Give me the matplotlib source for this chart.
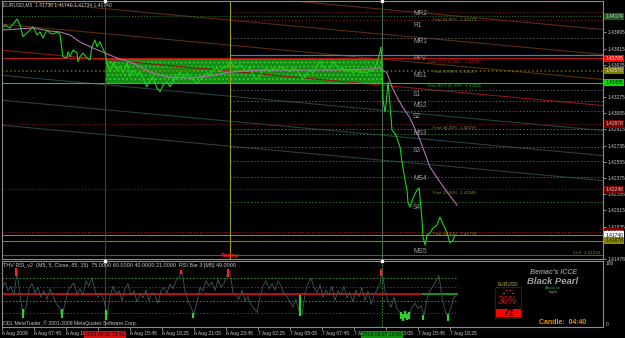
import matplotlib
matplotlib.use("Agg")
import matplotlib.pyplot as plt
from matplotlib.transforms import blended_transform_factory as blend
from matplotlib.patches import Rectangle

# ---------------- data ----------------
symbol_title = "EURUSD,M5  1.41736 1.41740 1.41734 1.41740"

# M5 bars counted from 6 Aug 2009 05:05
price_bar = [0, 3, 8, 13, 15, 18, 21, 25, 28, 31, 35, 38, 41, 45, 48, 51, 56, 58, 60, 61,
             65, 66, 68, 71, 75, 76, 78, 81, 85, 88, 90, 93, 95, 98, 100, 103, 105, 108, 111, 115,
             118, 121, 125, 128, 131, 135, 138, 141, 145, 148, 151, 155, 158, 161, 165, 168, 171, 175, 178, 181,
             185, 188, 191, 195, 198, 201, 205, 208, 211, 215, 218, 221, 225, 228, 231, 235, 238, 241, 245, 248,
             251, 255, 258, 261, 265, 268, 271, 275, 278, 281, 285, 288, 291, 295, 298, 301, 305, 308, 311, 315,
             318, 321, 325, 328, 331, 335, 338, 341, 345, 348, 351, 355, 358, 361, 365, 368, 371, 375, 378, 379,
             380, 381, 383, 384, 386, 388, 389, 390, 394, 398, 400, 403, 405, 406, 408, 411, 415, 417, 418, 420,
             421, 423, 425, 428, 431, 435, 438, 440, 443, 445, 448, 451, 453]
price_close = [1.44040, 1.44077, 1.44044, 1.44114, 1.44144, 1.44077, 1.43947, 1.43988, 1.44021, 1.44058,
               1.43966, 1.44002, 1.43932, 1.44021, 1.43988, 1.43977, 1.44002, 1.43966, 1.43799, 1.43724,
               1.43710, 1.43780, 1.43724, 1.43799, 1.43765, 1.43669, 1.43724, 1.43765, 1.43710, 1.43688,
               1.43836, 1.43910, 1.43836, 1.43891, 1.43836, 1.43765, 1.43654, 1.43557, 1.43654, 1.43576,
               1.43613, 1.43543, 1.43654, 1.43502, 1.43576, 1.43521, 1.43557, 1.43487, 1.43391, 1.43465,
               1.43502, 1.43376, 1.43335, 1.43409, 1.43446, 1.43391, 1.43446, 1.43502, 1.43557, 1.43487,
               1.43543, 1.43502, 1.43465, 1.43432, 1.43465, 1.43502, 1.43543, 1.43521, 1.43576, 1.43599,
               1.43557, 1.43599, 1.43613, 1.43669, 1.43632, 1.43599, 1.43632, 1.43599, 1.43557, 1.43613,
               1.43521, 1.43465, 1.43521, 1.43576, 1.43599, 1.43557, 1.43599, 1.43576, 1.43613, 1.43599,
               1.43576, 1.43557, 1.43599, 1.43576, 1.43521, 1.43465, 1.43543, 1.43576, 1.43543, 1.43632,
               1.43669, 1.43613, 1.43576, 1.43599, 1.43669, 1.43613, 1.43576, 1.43599, 1.43557, 1.43576,
               1.43543, 1.43576, 1.43543, 1.43557, 1.43543, 1.43576, 1.43557, 1.43654, 1.43780, 1.43832,
               1.43665, 1.43243, 1.43109, 1.43187, 1.43443, 1.43187, 1.43042, 1.42909, 1.42853, 1.42720,
               1.42553, 1.42353, 1.42241, 1.42097, 1.42052, 1.42152, 1.42241, 1.42264, 1.42163, 1.41908,
               1.41718, 1.41629, 1.41741, 1.41763, 1.41819, 1.41852, 1.41941, 1.41885, 1.41819, 1.41763,
               1.41652, 1.41685, 1.41741]

ma_bar = [0, 31, 48, 58, 68, 78, 91, 103, 115, 131, 148, 165, 188, 208, 228, 258, 288, 328, 368, 378,
          385, 390, 395, 400, 408, 418, 428, 438, 448, 455]
ma_value = [1.44021, 1.44044, 1.44010, 1.43999, 1.43966, 1.43888, 1.43821, 1.43765, 1.43710, 1.43654,
            1.43554, 1.43498, 1.43487, 1.43510, 1.43554, 1.43576, 1.43576, 1.43576, 1.43587, 1.43599,
            1.43543, 1.43387, 1.43276, 1.43176, 1.43042, 1.42798, 1.42497, 1.42330, 1.42175, 1.42074]

# sloping channel lines: price at first bar and last bar
chan_start = [1.44642, 1.44364, 1.44086, 1.43797, 1.43518, 1.43240, 1.42962]
chan_end = [1.44027, 1.43749, 1.43471, 1.43181, 1.42903, 1.42625, 1.42347]
chan_color = ["#5c2c0c", "#5c2c0c", "#5c2c0c", "#8a1616", "#244040", "#244040", "#244040"]

# full-width horizontal levels
level_price = [1.44174, 1.43705, 1.43570, 1.43435, 1.42978, 1.42248, 1.41774, 1.41740, 1.41678, 1.41518]
level_color = ["#2a6e2a", "#b81414", "#707000", "#22c022", "#7a1818", "#7a1818", "#a01818",
               "#8a6ccf", "#7c7c1e", "#5b5b2a"]
level_style = [":", "-", ":", "-", ":", ":", ":", "-", "-", "-"]
level_width = [0.8, 0.8, 1.1, 0.8, 0.8, 0.8, 0.8, 0.7, 0.8, 0.8]

# range box
box_bars = [103, 380]
box_low, box_high = 1.43435, 1.43705

# today's pivot lines
pivot_price = [1.44221, 1.44133, 1.43932, 1.43354, 1.43231, 1.43120, 1.42920, 1.42864, 1.42720,
               1.42564, 1.42386, 1.42108]
pivot_color = ["#6a1a1a", "#6a1a1a", "#5a5a5a", "#5a5a5a", "#5a5a5a", "#5a5a5a", "#5a5a5a", "#2a6e2a",
               "#5a5a5a", "#4e5e4e", "#4e5e4e", "#2a6e2a"]
ppv_price = 1.43743
pivot_names = ["MR2", "R1", "MR1", "PPV", "MS1", "S1", "MS2", "S2", "MS3", "S3", "MS4", "S4", "MS5"]
pivot_label_price = [1.44210, 1.44077, 1.43888, 1.43699, 1.43510, 1.43309, 1.43187, 1.43064,
                     1.42875, 1.42686, 1.42375, 1.42052, 1.41552]

fib_text = ["First 61.80%  1.44174", "First TOP 62.00%  1.43705", "First 50.00%  1.43570",
            "First BOT 47.30%  1.43435", "First 38.20%  1.42978", "First 23.60%  1.42248",
            "First 14.60%  1.41774", "23.6  1.41518"]
fib_bar = [431, 426, 431, 426, 431, 431, 431, 571]
fib_price = [1.44133, 1.43665, 1.43554, 1.43398, 1.42931, 1.42208, 1.41752, 1.41540]
fib_color = ["#8a8a20", "#d02020", "#7a7a50", "#20b020", "#8a8a20", "#8a8a20", "#8a8a20", "#8a8a20"]

hl_price = [1.44174, 1.43705, 1.43570, 1.43435, 1.42978, 1.42248, 1.41774, 1.41740, 1.41678]
hl_bg = ["#1e5a1e", "#ff0000", "#7a7a00", "#00e000", "#7a0000", "#7a0000", "#7a0000", "#ffffff", "#8a8a00"]
hl_fg = ["#d0d0d0", "#ffffff", "#e0e0e0", "#000000", "#d0d0d0", "#d0d0d0", "#d0d0d0", "#000000", "#101010"]

price_ticks = [1.41478, 1.41835, 1.42015, 1.42195, 1.42375, 1.42555, 1.42735, 1.42915, 1.43095,
               1.43275, 1.43455, 1.43635, 1.43815, 1.43995, 1.44175]

time_tick_bar = [0, 32, 64, 96, 128, 160, 192, 224, 256, 288, 320, 352, 384, 416, 448]
time_tick_label = ["6 Aug 2009", "6 Aug 07:45", "6 Aug 10:25", "", "6 Aug 15:45",
                   "6 Aug 18:25", "6 Aug 21:05", "6 Aug 23:45", "7 Aug 02:25", "7 Aug 05:05",
                   "7 Aug 07:45", "7 Aug 10:25", "7 Aug 13:05", "7 Aug 15:45", "7 Aug 18:25"]
vline_bar = [103, 228, 380]
vline_color = ["#8b2020", "#9a9a1a", "#4a6a4a"]
vline_label = ["2009.08.06 13:40", None, "2009.08.07 12:40"]
vline_label_bg = ["#d01010", None, "#109010"]

# RSI panel
rsi_bar = list(range(0, 379, 3)) + list(range(380, 456, 3))
rsi_value = [60, 68, 55, 62, 48, 84, 50, 18, 30, 58,
             66, 52, 60, 45, 55, 42, 58, 48, 36, 30,
             17, 35, 55, 62, 67, 50, 58, 48, 70, 62,
             75, 55, 45, 52, 40, 16, 45, 62, 50, 55,
             40, 58, 66, 48, 55, 38, 50, 44, 56, 40,
             52, 48, 36, 55, 60, 52, 65, 58, 70, 76,
             84, 55, 40, 30, 20, 38, 60, 55, 70, 62,
             68, 55, 72, 60, 66, 78, 85, 52, 48, 42,
             56, 40, 46, 34, 28, 22, 45, 62, 70, 58,
             66, 56, 70, 62, 50, 46, 38, 30, 42, 24,
             18, 50, 66, 74, 60, 52, 64, 45, 56, 48,
             62, 40, 55, 48, 62, 44, 52, 38, 56, 46,
             60, 40, 54, 34, 48, 56, 64,
             86, 55, 40, 30, 45, 28, 22, 18, 20, 16,
             30, 36, 28, 32, 18, 42, 55, 62, 70, 78,
             45, 25, 16, 30, 45, 49]
rsi_levels = [75, 60, 40, 21]
rsi_level_color = ["#2f9f2f", "#a01c1c", "#2f9f2f", "#a01c1c"]
rsi_mid = 50
sig_bar = [14, 179, 226, 379, 21, 60, 104, 191, 298, 399, 401, 403, 405, 407, 421, 446]
sig_lo = [78, 80, 76, 78, 13, 13, 10, 14, 16, 12, 9, 14, 10, 12, 10, 9]
sig_hi = [90, 87, 88, 88, 27, 28, 26, 21, 48, 22, 20, 24, 19, 22, 18, 20]
sig_color = ["#ff2020"] * 4 + ["#30d030"] * 12
rsi_title = ("THV RSI_v2  (M5, 5, Close, 85, 15)  75.0000 60.0000 40.0000 21.0000  "
             "RSI Bar 3 [M5] 49.0000")
icce_pct = "36%"
icce_value = "71"
candle_left = "04:40"

# ---------------- drawing ----------------
W, H = 625, 338
FONT = ["Liberation Sans", "DejaVu Sans"]
plt.rcParams["font.family"] = FONT
plt.rcParams["hatch.linewidth"] = 0.9
fig = plt.figure(figsize=(W / 100, H / 100), dpi=100, facecolor="black")


def fx(x):
    return x / W


def fy(y):
    return 1 - y / H


ax = fig.add_axes([fx(2), fy(259), fx(603) - fx(2), fy(1) - fy(259)])
ax2 = fig.add_axes([fx(2), fy(327), fx(603) - fx(2), fy(261) - fy(327)])
NB = 601
for a in (ax, ax2):
    a.set_facecolor("black")
    a.set_xlim(0, NB)
    for s in a.spines.values():
        s.set_color("#8c8c8c")
        s.set_linewidth(0.8)
ax.set_ylim(1.41474, 1.44344)
ax2.set_ylim(0, 100)

# range box
ax.fill_between(box_bars, box_low, box_high, facecolor="#138c13", edgecolor="#36c236",
                hatch="....", linewidth=0, zorder=1)

# channel lines
for s, e, c in zip(chan_start, chan_end, chan_color):
    ax.plot([0, NB], [s, e], color=c, lw=0.8, zorder=2)

# full-width levels
for p, c, ls, lw in zip(level_price, level_color, level_style, level_width):
    ax.plot([0, NB], [p, p], color=c, ls=ls, lw=lw, zorder=2)

# pivots (from today's start)
for p, c in zip(pivot_price, pivot_color):
    ax.plot([vline_bar[1], NB], [p, p], color=c, ls=(0, (1.5, 2)), lw=0.7, zorder=2)
ax.plot([vline_bar[1], NB], [ppv_price, ppv_price], color="#3f7fc8", lw=0.9, zorder=2)
for n, p in zip(pivot_names, pivot_label_price):
    ax.text(411, p, n, color="#9a9a9a", fontsize=4.8, ha="left", va="center", zorder=4)

# vertical lines
for b, c in zip(vline_bar, vline_color):
    ax.axvline(b, color=c, lw=0.8, zorder=2)
ax2.axvline(vline_bar[0], color=vline_color[0], lw=0.8)
ax2.axvline(vline_bar[2], color="#3aa03a", lw=0.7, ls=(0, (1.5, 1.5)))
for b in (vline_bar[0], vline_bar[2]):
    ax.plot([b], [1.44344], marker="s", ms=1.8, color="white", clip_on=False, zorder=6)
    ax2.plot([b], [100], marker="s", ms=1.8, color="white", clip_on=False, zorder=6)

# MA and price
ax.plot(ma_bar, ma_value, color="#b470b4", lw=0.8, zorder=3)
ax.plot(price_bar, price_close, color="#1ed21e", lw=0.8, zorder=4)

# fib texts
for t, b, p, c in zip(fib_text, fib_bar, fib_price, fib_color):
    ax.text(b, p, t, color=c, fontsize=3.2, ha="left", va="center", zorder=5)

# "Today"
tb = blend(ax.transData, ax.transAxes)
ax.text(vline_bar[1], 0.005, "Today", color="#ff1a1a", fontsize=4.6, fontweight="bold",
        ha="center", va="bottom", transform=tb, zorder=6)

# right price axis (tick labels hidden where a highlighted level label sits on top)
shown_ticks = [t for t in price_ticks if min(abs(t - h) for h in hl_price) > 0.00035]
ax.yaxis.tick_right()
ax.set_yticks(shown_ticks)
ax.set_yticklabels([f"{v:.5f}" for v in shown_ticks])
ax.tick_params(axis="y", colors="#c8c8c8", labelsize=3.5, length=2, width=0.5, pad=1.5)
ax.tick_params(axis="x", bottom=False, labelbottom=False)
rb = blend(ax.transAxes, ax.transData)
for p, bg, fg in zip(hl_price, hl_bg, hl_fg):
    ax.text(1.004, p, f"{p:.5f}", color=fg, fontsize=3.5, ha="left", va="center", transform=rb,
            bbox=dict(boxstyle="square,pad=0.25", fc=bg, ec="none"), zorder=7, clip_on=False)

# RSI panel
for lv, c in zip(rsi_levels, rsi_level_color):
    ax2.plot([0, 455], [lv, lv], color=c, ls=(0, (1.5, 2)), lw=0.7)
ax2.plot([0, 421], [rsi_mid, rsi_mid], color="#cc1010", lw=1.3)
ax2.plot([421, 455], [rsi_mid, rsi_mid], color="#20a020", lw=1.3)
ax2.plot(rsi_bar, rsi_value, color="#3d5c5c", lw=0.6)
ax2.vlines(sig_bar, sig_lo, sig_hi, colors=sig_color, lw=1.6)

ax2.yaxis.tick_right()
ax2.set_yticks([100, 0])
ax2.set_yticklabels(["100", "0"])
ax2.tick_params(axis="y", colors="#c8c8c8", labelsize=3.5, length=0, pad=2)
ylabs = ax2.get_yticklabels()
ylabs[0].set_va("top")
ylabs[1].set_va("bottom")
ax2.set_xticks(time_tick_bar)
ax2.set_xticklabels(time_tick_label)
ax2.tick_params(axis="x", colors="#c8c8c8", labelsize=3.6, length=2, width=0.5, pad=1)
for lab in ax2.get_xticklabels():
    lab.set_ha("left")

bb = blend(ax2.transData, ax2.transAxes)
for b, t, bg in zip(vline_bar, vline_label, vline_label_bg):
    if t is None:
        continue
    ax2.text(b, -0.075, t, color="#200000" if bg == "#d01010" else "#002000", fontsize=3.6,
             ha="center", va="top", transform=bb, clip_on=False,
             bbox=dict(boxstyle="square,pad=0.2", fc=bg, ec="none"), zorder=7)

# texts
fig.text(fx(3), fy(2), symbol_title, color="#c8c8c8", fontsize=3.6, ha="left", va="top")
fig.text(fx(3), fy(266), rsi_title, color="#c8c8c8", fontsize=3.9, ha="left", va="center")
fig.text(fx(3), fy(323), "ODL MetaTrader, \u00a9 2001-2009 MetaQuotes Software Corp.",
         color="#c8c8c8", fontsize=3.6, ha="left", va="center")
fig.text(fx(553), fy(272), "Bemac's ICCE", color="#8c8c8c", fontsize=5, fontweight="bold",
         style="italic", ha="center", va="center")
fig.text(fx(553), fy(281), "Black Pearl", color="#a0a0a0", fontsize=6.8, fontweight="bold",
         style="italic", ha="center", va="center")
fig.text(fx(553), fy(288), "Absolute", color="#2f9f2f", fontsize=3, ha="center", va="center")
fig.text(fx(553), fy(292), "Light", color="#a0a0a0", fontsize=3, ha="center", va="center")
fig.text(fx(508), fy(284), "EURUSD", color="#7a7a40", fontsize=3.5, fontweight="bold",
         ha="center", va="center")
fig.patches.append(Rectangle((fx(495), fy(318)), fx(521) - fx(495), fy(287) - fy(318),
                             transform=fig.transFigure, fill=False, ec="#50502a", lw=0.6,
                             ls=(0, (1, 1))))
for xx, cc in zip([503, 506, 509, 512, 506, 509], ["#20a020", "#c01010", "#20a020", "#20a020",
                                                   "#c01010", "#c01010"]):
    fig.patches.append(Rectangle((fx(xx), fy(294 if xx in (503, 512) else 291)), fx(2), fx(2),
                                 transform=fig.transFigure, fc=cc, ec="none"))
fig.text(fx(508), fy(301), icce_pct, color="#a01010", fontsize=7, fontweight="bold",
         style="italic", ha="center", va="center")
fig.patches.append(Rectangle((fx(496), fy(317)), fx(521) - fx(496), fy(309) - fy(317),
                             transform=fig.transFigure, fc="#ff0000", ec="none"))
fig.text(fx(508.5), fy(313), icce_value, color="#000000", fontsize=7, fontweight="bold",
         style="italic", ha="center", va="center")
fig.text(fx(563), fy(322), "Candle:  " + candle_left, color="#e8900a", fontsize=5,
         fontweight="bold", ha="center", va="center")

fig.savefig("out.png", dpi=100, facecolor="black")
